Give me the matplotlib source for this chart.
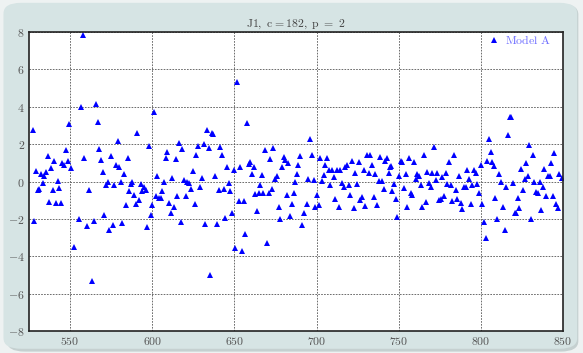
import matplotlib

matplotlib.use('Agg')
import matplotlib.pyplot as plt
from matplotlib.patches import FancyBboxPatch

plt.rcParams['mathtext.fontset'] = 'cm'
plt.rcParams['font.family'] = 'serif'
plt.rcParams['font.serif'] = ['DejaVu Serif']

# values
x_vals = [527.2, 528.2, 529.2, 530.3, 531.3, 532.3, 533.3, 534.3, 535.3, 536.3,
          537.3, 538.4, 539.4, 540.4, 541.4, 542.4, 543.4, 544.4, 545.4, 546.5,
          547.5, 548.5, 549.5, 550.5, 552.5, 555.6, 556.6, 557.6, 558.6, 560.6,
          561.6, 563.6, 564.6, 565.8, 566.8, 567.9, 568.9, 569.9, 570.9, 571.9,
          572.9, 573.9, 574.9, 575.9, 576.9, 577.9, 578.9, 579.9, 580.9, 581.9,
          582.9, 583.9, 585.0, 586.0, 587.0, 588.0, 589.0, 590.0, 591.0, 592.0,
          593.0, 594.0, 595.0, 596.0, 597.0, 598.0, 599.0, 600.0, 601.0,
          602.2, 603.2, 604.2, 605.2, 606.2, 607.2, 608.2, 609.3, 610.3, 611.3,
          612.3, 613.3, 614.3, 615.3, 616.3, 617.4, 618.4, 619.4, 620.4, 621.4,
          622.6, 623.4, 624.9, 625.9, 626.9, 627.9, 629.1, 630.3, 631.3, 632.3,
          633.3, 634.3, 635.3, 636.4, 637.2, 638.4, 639.4, 640.4, 641.4, 642.4,
          643.4, 644.3, 645.5, 646.5, 647.5, 648.5, 649.5, 650.5, 651.5, 652.6,
          653.6, 654.6, 655.6, 656.6, 657.6, 658.6, 659.6, 660.7, 661.7, 662.7,
          663.7, 664.7, 665.7, 666.7, 667.7, 668.8, 669.8, 670.8, 671.8, 672.8,
          673.8, 674.8, 675.9, 676.9, 677.9, 678.9, 679.9, 680.9, 681.9, 682.9,
          684.0, 685.0, 686.0, 687.0, 688.0, 689.0, 690.0, 691.2, 692.3, 694.1,
          695.1, 696.3, 697.3, 698.3, 699.3, 700.4, 701.4, 702.4, 703.4, 704.4,
          705.4, 706.5, 707.5, 708.5, 709.5, 710.5, 711.5, 712.5, 713.5, 714.5,
          715.6, 716.6, 717.6, 718.6, 719.6, 720.6, 721.6, 722.6, 723.6, 724.7,
          725.7, 726.7, 727.7, 728.7, 729.7, 730.7, 731.7, 732.8, 733.8, 734.8,
          735.8, 736.8, 737.8, 738.8, 739.8, 740.9, 741.9, 742.9, 743.9, 744.7,
          745.2, 746.2, 747.2, 748.2, 749.2, 750.2, 751.2, 752.2, 753.3, 754.3,
          755.3, 756.3, 757.3, 758.3, 759.3, 760.3, 761.4, 762.4, 763.4, 764.4,
          765.4, 766.4, 767.4, 768.4, 769.5, 770.5, 771.5, 772.5, 773.5, 774.5,
          775.5, 776.5, 777.6, 778.6, 779.6, 780.6, 781.6, 782.6, 783.6, 784.6,
          785.7, 786.7, 787.7, 788.7, 789.7, 790.7, 791.7, 792.7, 793.8, 794.8,
          795.8, 796.8, 797.8, 798.8, 799.8, 800.8, 801.9, 802.9, 803.9, 804.9,
          805.9, 806.9, 807.9, 808.9, 810.0, 811.0, 812.0, 813.4, 814.4, 815.4,
          816.4, 817.5, 818.5, 819.5, 820.5, 821.5, 822.5, 823.5, 824.5, 825.6,
          826.6, 827.6, 828.6, 829.6, 830.6, 831.6, 832.6, 833.7, 834.7, 835.7,
          836.7, 837.7, 838.7, 839.7, 840.7, 841.8, 842.8, 843.8, 844.8, 845.8,
          846.8, 847.8, 849.2]

y_vals = [2.75, -2.09, 0.57, -0.45, -0.41, 0.41, -0.09, 0.27, 0.50, 1.37,
          -1.07, 0.71, -0.46, 1.12, -1.16, 0.02, -0.36, -1.16, 0.98, 0.86,
          1.68, 1.11, 3.07, 0.71, -3.48, -2.00, 4.00, 7.84, 1.28, -2.39,
          -0.46, -5.31, -2.12, 4.14, 3.16, 1.75, 1.14, 0.52, -1.80, -0.21,
          -0.05, -2.60, 1.37, -2.32, -0.16, 0.86, 2.17, 0.75, -0.05, -2.21,
          0.41, -1.28, 1.25, -0.50, -0.14, -0.05, -0.70, -1.19, 2.58, -1.00,
          -0.11, -0.52, -0.32, -0.43, -2.42, 1.89, -1.80, -1.27, 3.72,
          -0.78, 0.32, -0.87, -0.89, -0.53, 0.00, 1.25, 1.60, -1.14, -1.71,
          0.18, -1.35, 1.21, -0.75, 2.05, -2.17, 1.73, 0.09, -0.75, 0.00,
          -0.07, -0.39, 0.55, -1.20, 1.44, 1.91, -0.32, 0.21, 2.01, -2.26,
          2.76, 1.82, -4.99, 2.62, 2.55, 0.30, -2.30, -0.48, 1.85, 1.43,
          -0.39, -1.93, 0.80, -0.09, -0.53, -1.69, 0.59, -3.57, 5.33, -1.02,
          0.75, -3.71, -1.02, -2.80, 3.12, 0.94, 1.02, 0.41, 0.80, -0.66,
          -1.60, -0.59, -0.20, 0.34, -0.59, 1.66, -3.30, -0.64, 1.23, -0.39,
          1.82, 0.12, 0.27, -1.34, -2.01, 0.75, 1.30, 1.14, -0.70, 0.98,
          -1.84, -1.18, -0.64, -0.05, 0.41, 0.91, 1.35, -2.35, -1.71, -1.23,
          0.16, 2.30, 1.44, 0.07, -1.34, -0.73, -1.27, 1.25, 0.02, 0.36,
          0.87, 1.25, 0.59, -0.21, 0.59, 0.23, -0.94, 0.62, -1.34, 0.62,
          -0.07, -0.32, 0.80, 0.86, -0.20, -0.70, 1.11, -1.44, 0.48, -0.11,
          1.02, -1.00, -0.84, 0.59, -1.30, 1.41, 0.48, 1.41, 0.91, -0.84,
          0.41, -1.27, 0.05, 1.30, 0.05, -0.39, 1.10, 1.25, 0.45, 0.80,
          0.84, -0.50, -0.11, -0.93, -1.91, 0.30, 1.12, 1.02, -0.36, 0.41,
          -1.37, 1.28, -0.59, -0.73, 1.07, 0.12, 0.41, 0.27, -0.20, -1.39,
          1.43, -1.12, 0.53, -0.07, -0.27, 0.48, 1.87, 0.09, 0.45, -1.00,
          -0.94, 0.23, -0.77, 0.48, -0.14, 1.05, -0.21, -1.03, 1.43, -0.46,
          -0.94, 0.27, -1.16, -1.46, -0.30, -0.30, 0.62, 0.16, -1.21, -0.20,
          0.62, 0.45, -0.12, -0.59, 0.91, -1.21, -2.19, -3.03, 1.10, 2.26,
          1.60, 1.02, 0.84, -0.86, -1.98, 0.41, 0.00, -1.34, -2.60, -0.27,
          2.48, 3.46, 3.46, -0.09, -1.66, -1.66, -0.86, -1.43, 0.66, -0.46,
          0.14, 0.98, 0.30, 1.94, -1.98, 1.44, 0.00, -0.55, -0.59, -0.05,
          -1.55, -0.32, 0.66, -0.77, 0.32, 0.27, 0.98, -0.80, 1.50, -1.18,
          -1.44, 0.39, 0.21]

x_ticks = [550, 600, 650, 700, 750, 800, 850]
y_ticks = [-8, -6, -4, -2, 0, 2, 4, 6, 8]
title = r'$\mathrm{J1,\ c{=}182,\ p\ =\ 2}$'
series_name = r'$\mathrm{Model\ A}$'

fig = plt.figure(figsize=(5.83, 3.53), dpi=100)
fig.patch.set_facecolor('#eef2f2')

# rounded panel behind the axes, with a faint shadow
shadow = FancyBboxPatch((0.012, 0.004), 0.98, 0.985, transform=fig.transFigure,
                        boxstyle='round,pad=0,rounding_size=0.03',
                        facecolor='#c5d0d0', edgecolor='none', zorder=-2)
panel = FancyBboxPatch((0.006, 0.012), 0.984, 0.98, transform=fig.transFigure,
                       boxstyle='round,pad=0,rounding_size=0.03',
                       facecolor='#d6e4e4', edgecolor='none', zorder=-1)
fig.patches.extend([shadow, panel])

ax = fig.add_axes([0.0497, 0.0623, 0.916, 0.847])
ax.plot(x_vals, y_vals, linestyle='none', marker='^', markersize=4.5,
        color='#0000ff', markeredgewidth=0, label=series_name)

ax.set_xlim(525, 850)
ax.set_ylim(-8, 8)
ax.set_xticks(x_ticks)
ax.set_yticks(y_ticks)
ax.set_xticklabels(['$%d$' % t for t in x_ticks])
ax.set_yticklabels(['$%d$' % t for t in y_ticks])
ax.tick_params(length=0, labelsize=8.5, labelcolor='#555555', pad=3)
ax.grid(True, linestyle='--', color='#555555', linewidth=0.6, dashes=(2, 1.5))
ax.set_axisbelow(True)

for spine in ax.spines.values():
    spine.set_linewidth(1.2)
    spine.set_color('#222222')

ax.set_title(title, fontsize=8.5, color='#444444', pad=4)

leg = ax.legend(loc='upper right', bbox_to_anchor=(0.981, 0.998), frameon=True,
                framealpha=1.0, fontsize=8.5, borderpad=0.15, handlelength=1.0,
                handletextpad=0.5, borderaxespad=0.0, markerscale=1.1)
leg.get_frame().set_edgecolor('none')
leg.get_frame().set_facecolor('white')
for txt in leg.get_texts():
    txt.set_color('#6f6fff')

fig.savefig('out.png', dpi=100, facecolor=fig.get_facecolor())
